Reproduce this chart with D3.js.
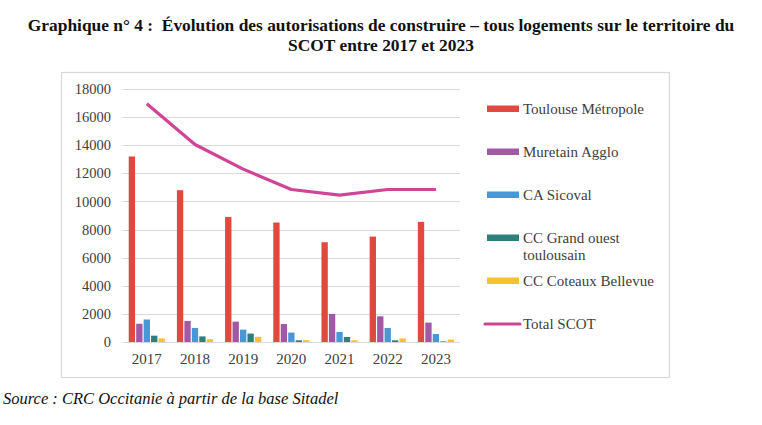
<!DOCTYPE html>
<html><head><meta charset="utf-8">
<script src="https://cdn.jsdelivr.net/npm/d3@7/dist/d3.min.js"></script>
<style>body{margin:0;background:#fff}svg{display:block}</style>
</head><body>
<svg id="c" width="762" height="425"></svg>
<script>
const years = ["2017","2018","2019","2020","2021","2022","2023"];
const seriesNames = ["Toulouse Métropole","Muretain Agglo","CA Sicoval","CC Grand ouest toulousain","CC Coteaux Bellevue"];
const toulouse = [13200,10800,8900,8500,7100,7500,8550];
const muretain = [1300,1500,1450,1280,2000,1830,1380];
const sicoval  = [1600,1000,880,670,710,1000,570];
const grandOuest = [450,400,600,120,360,120,40];
const coteaux = [250,200,370,130,120,250,170];
const totalScot = [16950,14050,12300,10850,10450,10850,10850];
const yTicks = [0,2000,4000,6000,8000,10000,12000,14000,16000,18000];
const colors = ["#e2493e","#a259a3","#4c96d2","#2f7f7b","#f9c02f"];
const lineColor = "#cf4495";
const seriesValues = [toulouse,muretain,sicoval,grandOuest,coteaux];

const svg = d3.select("#c");
const serif = "'Liberation Serif','Times New Roman',serif";

// title
svg.append("text").attr("x",381).attr("y",31).attr("text-anchor","middle").style("white-space","pre")
  .attr("font-family",serif).attr("font-weight","bold").attr("font-size",17.4).attr("fill","#111")
  .text("Graphique n° 4 :  Évolution des autorisations de construire – tous logements sur le territoire du");
svg.append("text").attr("x",381).attr("y",51).attr("text-anchor","middle")
  .attr("font-family",serif).attr("font-weight","bold").attr("font-size",17.4).attr("fill","#111")
  .text("SCOT entre 2017 et 2023");

// frame
svg.append("rect").attr("x",61.5).attr("y",72.5).attr("width",608).attr("height",305)
  .attr("fill","#fff").attr("stroke","#d9d9d9").attr("stroke-width",1.2);

const x0 = d3.scaleBand().domain(years).range([122.7,460]).paddingInner(0.25).paddingOuter(0.125);
const xAxisScale = d3.scaleBand().domain(years).range([122.7,460]);
const x1 = d3.scaleBand().domain(seriesNames).range([0,x0.bandwidth()]).paddingInner(0.15);
const y = d3.scaleLinear().domain([0,18000]).range([342,89]);

// grid
svg.append("g").selectAll("line").data(yTicks).join("line")
  .attr("x1",122.7).attr("x2",460).attr("y1",d=>Math.round(y(d))+0.5).attr("y2",d=>Math.round(y(d))+0.5)
  .attr("stroke","#d9d9d9").attr("stroke-width",1);

// y axis labels
const ya = svg.append("g").attr("transform","translate(111,0)")
  .call(d3.axisLeft(y).tickValues(yTicks).tickSize(0).tickPadding(0).tickFormat(d3.format("d")));
ya.select(".domain").remove();
ya.selectAll("text").attr("font-family",serif).attr("font-size",14.5).attr("fill","#404040");

// x axis labels
const xa = svg.append("g").attr("transform","translate(0,342)")
  .call(d3.axisBottom(xAxisScale).tickSize(0).tickPadding(11));
xa.select(".domain").remove();
xa.selectAll("text").attr("font-family",serif).attr("font-size",15).attr("fill","#404040");

// bars
const groups = svg.append("g").selectAll("g").data(years).join("g")
  .attr("transform",d=>`translate(${x0(d)},0)`);
groups.selectAll("rect").data((d,i)=>seriesNames.map((s,k)=>({s,k,v:seriesValues[k][i]}))).join("rect")
  .attr("x",d=>x1(d.s)).attr("width",x1.bandwidth())
  .attr("y",d=>y(d.v)).attr("height",d=>y(0)-y(d.v))
  .attr("fill",d=>colors[d.k]);

// line
const line = d3.line().x((d,i)=>x0(years[i])+x0.bandwidth()/2).y(d=>y(d));
svg.append("path").datum(totalScot).attr("d",line).attr("fill","none")
  .attr("stroke",lineColor).attr("stroke-width",3.2).attr("stroke-linejoin","round");

// legend
const legY = [109,152,195,238,281,324];
const lg = svg.append("g");
seriesNames.forEach((s,k)=>{
  lg.append("rect").attr("x",487).attr("y",legY[k]-3.5).attr("width",32).attr("height",6.5).attr("fill",colors[k]);
  const t = lg.append("text").attr("x",523).attr("y",legY[k]+5).attr("font-family",serif)
    .attr("font-size",15).attr("fill","#404040");
  if (s === "CC Grand ouest toulousain") {
    t.append("tspan").attr("x",523).text("CC Grand ouest");
    t.append("tspan").attr("x",523).attr("dy",17).text("toulousain");
  } else t.text(s);
});
lg.append("line").attr("x1",485).attr("x2",520).attr("y1",legY[5]).attr("y2",legY[5])
  .attr("stroke",lineColor).attr("stroke-width",3.2).attr("stroke-linecap","round");
lg.append("text").attr("x",523).attr("y",legY[5]+5).attr("font-family",serif)
  .attr("font-size",15).attr("fill","#404040").text("Total SCOT");

// source
svg.append("text").attr("x",3).attr("y",404).attr("font-family",serif).attr("font-style","italic")
  .attr("font-size",16.5).attr("fill","#111").text("Source : CRC Occitanie à partir de la base Sitadel");
</script>
</body></html>
